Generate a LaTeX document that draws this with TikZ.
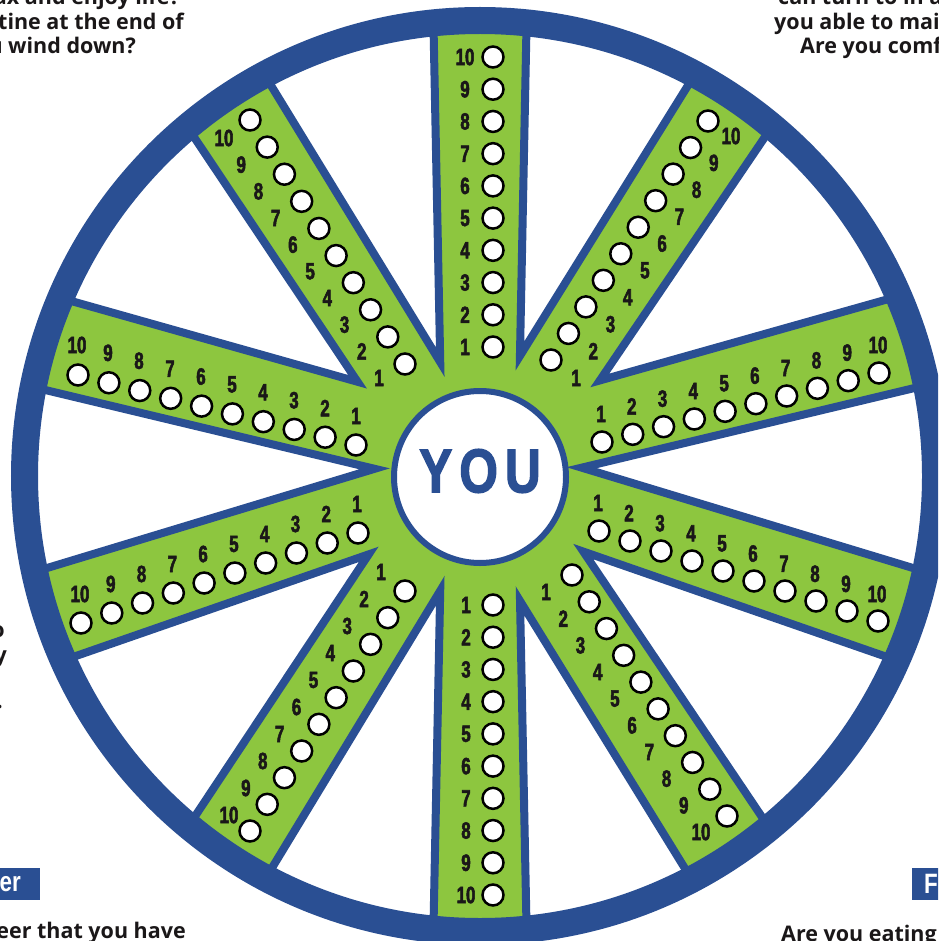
\documentclass[tikz,border=0pt]{standalone}
\usepackage{fontspec}
\newfontfamily\qfont{Open Sans}
\newfontfamily\numfont{Liberation Sans}[FakeStretch=0.72,FakeBold=2.2]
\newfontfamily\youfont{Liberation Sans}[FakeStretch=0.8,FakeBold=2]
\newfontfamily\boxfont{Liberation Sans}[FakeStretch=0.8]
\definecolor{wblue}{HTML}{2A4F93}
\definecolor{wgreen}{HTML}{8DC63F}
\definecolor{ink}{HTML}{1A1718}

% point on a spoke edge: name, angle, offset, radius, side
\newcommand\spkpt[5]{%
  \pgfmathsetmacro\spkd{#3+(#5)*(37.5+0.02*(#4))}%
  \coordinate (#1) at ({480+(#4)*cos(#2)-\spkd*sin(#2)},{476-(#4)*sin(#2)-\spkd*cos(#2)});%
}
% spoke: name, angle, offset
\newcommand\defspoke[3]{%
  \spkpt{#1ai}{#2}{#3}{40}{1}\spkpt{#1ao}{#2}{#3}{560}{1}%
  \spkpt{#1bi}{#2}{#3}{40}{-1}\spkpt{#1bo}{#2}{#3}{560}{-1}%
}
% white gap between spoke #1 (ccw) and spoke #2 (cw)
\newcommand\gapregion[2]{%
  \coordinate (#1#2tip) at (intersection of #1bi--#1bo and #2ai--#2ao);
  \filldraw[gapstyle] (#1#2tip) -- (#1bo) -- (#2ao) -- cycle;
}
% row of answer circles and numbers
\newcommand\answerrow[9]{%
  \foreach \i in {1,...,10}{%
    \pgfmathsetmacro\rt{(\i-1)/9}%
    \node[dot] (#1c\i) at ({#2+(#4-#2)*\rt},{#3+(#5-#3)*\rt}) {};
    \node[num] (#1n\i) at ({#6+(#8-#6)*\rt},{#7+(#9-#7)*\rt}) {\i};
  }%
}

\begin{document}
\begin{tikzpicture}[x=1pt,y=-1pt,
  gapstyle/.style={fill=white,draw=wblue,line width=8pt,line join=miter},
  dot/.style={circle,draw=black,line width=2.5pt,fill=white,minimum size=21pt,inner sep=0pt},
  num/.style={font=\numfont\bfseries\fontsize{23.5}{23}\selectfont,text=ink,inner sep=0pt},
  hubstyle/.style={circle,draw=wblue,line width=6pt,fill=white,minimum size=172pt,inner sep=0pt},
  youtext/.style={font=\youfont\bfseries\fontsize{62}{62}\selectfont,text=wblue,inner sep=0pt},
  qtext/.style={font=\qfont\bfseries\fontsize{21.5}{25}\selectfont,text=ink,inner sep=0pt},
  tab/.style={fill=wblue,text=white,font=\boxfont\bfseries\fontsize{28}{28}\selectfont,minimum height=32pt,inner ysep=0pt}
]
\useasboundingbox (0,0) rectangle (938,941);
\clip (0,0) rectangle (938,941);

% green disk
\fill[wgreen] (480,476) circle (450pt);

% spokes
\defspoke{T}{90}{0}
\defspoke{UR}{57}{-8}
\defspoke{RA}{14.6}{22}
\defspoke{RB}{-18}{0}
\defspoke{LR}{-57.2}{6}
\defspoke{B}{-90}{0}
\defspoke{LL}{-122.4}{-12}
\defspoke{LB}{-162}{0}
\defspoke{LA}{-194.6}{-20}
\defspoke{UL}{-237.4}{12}

\begin{scope}
  \clip (480,476) circle (450pt);
  \gapregion{T}{UR}
  \gapregion{UR}{RA}
  \gapregion{RA}{RB}
  \gapregion{RB}{LR}
  \gapregion{LR}{B}
  \gapregion{B}{LL}
  \gapregion{LL}{LB}
  \gapregion{LB}{LA}
  \gapregion{LA}{UL}
  \gapregion{UL}{T}
\end{scope}

% rim
\draw[wblue,line width=27pt] (480,476) circle (455.5pt);

% hub
\node[hubstyle] (hub) at (480,477) {};
\node[youtext] (you) at (480,471) {Y\kern7pt O\kern7pt U};

% answer rows
\answerrow{T}{493}{347}{493}{57}{465}{347}{465}{57}
\answerrow{B}{493}{605}{493}{895}{466}{605}{466}{895}
\answerrow{UR}{551}{360}{708}{121}{576}{378}{731}{136}
\answerrow{UL}{405}{364}{250}{120}{379}{378}{224}{138}
\answerrow{RA}{602}{442}{879}{373}{601}{414}{878}{345}
\answerrow{RB}{599}{531}{878}{621}{598}{503}{877}{594}
\answerrow{LA}{356}{445}{78}{375}{356}{416}{77}{345}
\answerrow{LB}{358}{533}{81}{623}{357}{504}{80}{594}
\answerrow{LR}{572}{575}{727}{816}{546}{592}{701}{832}
\answerrow{LL}{405}{591}{250}{831}{381}{572}{229}{815}

% surrounding text fragments
\node[qtext,anchor=base east] (q1) at (180,5) {ax and enjoy life?};
\node[qtext,anchor=base east] (q2) at (184,30) {tine at the end of};
\node[qtext,anchor=base east] (q3) at (136,54) {u wind down?};
\node[qtext,anchor=base west] (q4) at (778,5) {can turn to in a};
\node[qtext,anchor=base west] (q5) at (774,30) {you able to mai};
\node[qtext,anchor=base west] (q6) at (800,54) {Are you comf};
\node[qtext,anchor=base east] (q7) at (186,938) {eer that you have};
\node[qtext,anchor=base west] (q8) at (781,941) {Are you eating};
\node[qtext,anchor=base east] (f1) at (5,637) {o};
\node[qtext,anchor=base east] (f2) at (7,662) {y};
\node[qtext,anchor=base east] (f3) at (3,708) {.};

% section tabs
\node[tab,anchor=north east,inner xsep=19pt] (tabL) at (40,868) {er};
\node[tab,anchor=north west,inner xsep=12pt] (tabR) at (912,868) {F};
\end{tikzpicture}
\end{document}
